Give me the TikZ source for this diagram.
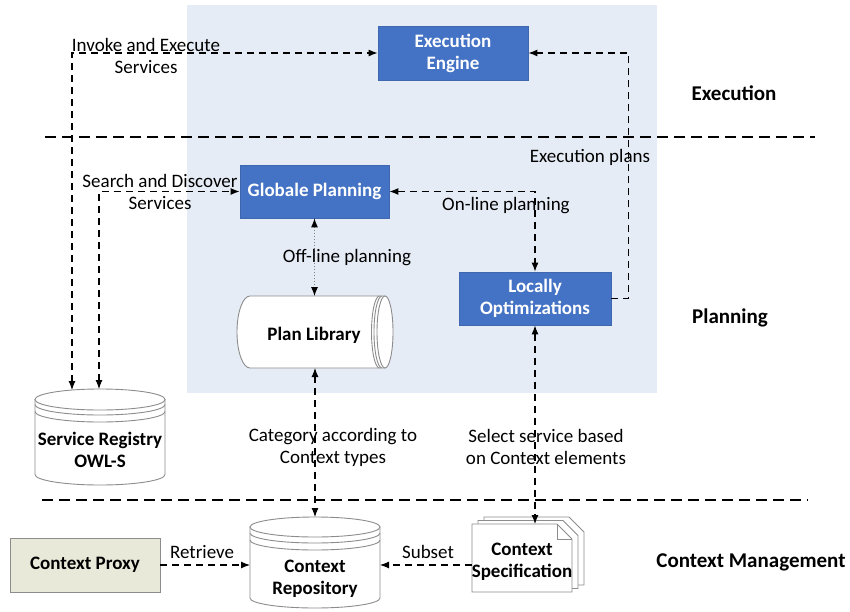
\documentclass[tikz,border=0pt]{standalone}
\usepackage{fontspec}
\setmainfont{Carlito}
\usetikzlibrary{arrows.meta,calc}
\definecolor{boxblue}{HTML}{4472C4}
\definecolor{boxedge}{HTML}{3E67B0}
\definecolor{bgblue}{HTML}{E6ECF6}
\definecolor{proxyfill}{HTML}{E9E9DA}
\definecolor{shapeedge}{HTML}{8C8C8C}
\begin{document}
\begin{tikzpicture}[x=1pt,y=-1pt,
  lbl/.style={font=\fontsize{19}{22}\selectfont, align=center, inner sep=0pt},
  seclbl/.style={font=\bfseries\fontsize{21}{24}\selectfont, inner sep=0pt},
  bluebox/.style={fill=boxblue, draw=boxedge, line width=0.8pt, text=white,
    font=\bfseries\fontsize{19}{22}\selectfont, align=center, inner sep=0pt},
  ghost/.style={inner sep=0pt, outer sep=0pt},
  shapeline/.style={draw=shapeedge, line width=0.9pt, fill=white},
  conn/.style={draw=black, line width=1.1pt, dash pattern=on 7pt off 5pt},
  sep/.style={draw=black, line width=1.1pt, dash pattern=on 11pt off 6pt},
  tip/.style={-{Latex[length=9pt,width=7pt]}},
  tips/.style={{Latex[length=9pt,width=7pt]}-{Latex[length=9pt,width=7pt]}},
  offl/.style={draw=gray, line width=0.9pt, dash pattern=on 1.5pt off 1.5pt,
    {Latex[length=9pt,width=7pt,color=black]}-{Latex[length=9pt,width=7pt,color=black]}},
  bodytext/.style={font=\bfseries\fontsize{19}{22}\selectfont, align=center, inner sep=0pt}
]
\useasboundingbox (0,0) rectangle (850,612);
% background of execution/planning region
\fill[bgblue] (187,5) rectangle (657,393);

% separators
\draw[sep] (45,137) -- (815,137);
\draw[sep] (42,500) -- (808,500);

% blue boxes
\node[bluebox, minimum width=150pt, minimum height=54pt] (ee) at (453,53) {Execution\\Engine};
\node[bluebox, minimum width=149pt, minimum height=53pt] (gp) at (314.5,191.5) {Globale Planning};
\node[bluebox, minimum width=152pt, minimum height=53pt] (lo) at (535,298.5) {Locally\\Optimizations};

% Plan Library (horizontal cylinder)
\node[ghost, minimum width=156pt, minimum height=72pt] (pl) at (315,332) {};
\path[shapeline] (385,296) -- (250,296) arc[start angle=270, end angle=90, x radius=13, y radius=36] -- (385,368) -- cycle;
\draw[shapeline] (385,332) ellipse[x radius=8, y radius=36];
\draw[draw=shapeedge, line width=0.9pt] (382,296) arc[start angle=270, end angle=90, x radius=8, y radius=36];
\draw[draw=shapeedge, line width=0.9pt] (379.5,296) arc[start angle=270, end angle=90, x radius=8, y radius=36];
\node[bodytext, text=black] (plt) at (314,335) {Plan Library};

% Service Registry (database)
\node[ghost, minimum width=130pt, minimum height=96pt] (sr) at (100,437) {};
\path[shapeline] (35,399.5) -- (35,474.5) arc[start angle=180, end angle=0, x radius=65, y radius=10.5] -- (165,399.5) -- cycle;
\draw[shapeline] (100,399.5) ellipse[x radius=65, y radius=10.5];
\draw[draw=shapeedge, line width=0.9pt] (35,404.5) arc[start angle=180, end angle=0, x radius=65, y radius=10.5];
\draw[draw=shapeedge, line width=0.9pt] (35,411.5) arc[start angle=180, end angle=0, x radius=65, y radius=10.5];
\node[bodytext] (srt) at (100,450) {Service Registry\\OWL-S};
\coordinate (sra) at (72,390);
\coordinate (srb) at (99,389);

% Context Repository (database)
\node[ghost, minimum width=130pt, minimum height=91pt] (crep) at (315,562.5) {};
\path[shapeline] (250,527) -- (250,598) arc[start angle=180, end angle=0, x radius=65, y radius=10] -- (380,527) -- cycle;
\draw[shapeline] (315,527) ellipse[x radius=65, y radius=10];
\draw[draw=shapeedge, line width=0.9pt] (250,533) arc[start angle=180, end angle=0, x radius=65, y radius=10];
\draw[draw=shapeedge, line width=0.9pt] (250,540) arc[start angle=180, end angle=0, x radius=65, y radius=10];
\node[bodytext] (crt) at (315,578.5) {Context\\Repository};

% Context Specification (multi-document)
\draw[shapeline] (484,517) -- (569,517) -- (584,532) -- (584,585) -- (484,585) -- cycle;
\draw[shapeline] (478,520.5) -- (563,520.5) -- (578,535.5) -- (578,588.5) -- (478,588.5) -- cycle;
\node[ghost, minimum width=100pt, minimum height=68pt] (cs) at (522,558) {};
\draw[shapeline] (472,524) -- (557,524) -- (572,539) -- (572,592) -- (472,592) -- cycle;
\draw[draw=shapeedge, line width=0.9pt] (557,524) -- (557,539) -- (572,539);
\node[bodytext] (cst) at (522,562) {Context\\Specification};

% Context Proxy
\node[draw=shapeedge, fill=proxyfill, line width=0.9pt, minimum width=150pt, minimum height=54pt,
  font=\bfseries\fontsize{19}{22}\selectfont, inner sep=0pt] (cp) at (85,565) {Context Proxy};

% section labels
\node[seclbl] (sx) at (734,93) {Execution};
\node[seclbl] (sp) at (730,318) {Planning};
\node[seclbl] (sc) at (751,562) {Context Management};

% connectors
\draw[conn, tips] (sra) |- (ee.west);
\draw[conn, tips] (srb) |- (gp.west);
\draw[conn, tip] (lo.east) -- ++(17,0) |- (ee.east);
\draw[conn, tips] (gp.east) -| (lo.north);
\draw[offl] (gp.south) -- (gp.south |- pl.north);
\draw[conn, tips] (pl.south) -- (crep.north);
\draw[conn, tips] (lo.south) -- (lo.south |- cs.north);
\draw[conn, tip] (cp.east) -- (cp.east -| crep.west);
\draw[conn, tip] (cs.west |- cp.east) -- (crep.east |- cp.east);

% connector labels
\node[lbl] (l1) at (146,55.5) {Invoke and Execute\\Services};
\node[lbl] (l2) at (160,192) {Search and Discover\\Services};
\node[lbl] (l3) at (590,157) {Execution plans};
\node[lbl] (l4) at (506,206) {On-line planning};
\node[lbl] (l5) at (347,258) {Off-line planning};
\node[lbl] (l6) at (333,447.5) {Category according to\\Context types};
\node[lbl] (l7) at (546,447) {Select service based\\on Context elements};
\node[lbl] (l8) at (202,552) {Retrieve};
\node[lbl] (l9) at (428,552) {Subset};
\end{tikzpicture}
\end{document}
